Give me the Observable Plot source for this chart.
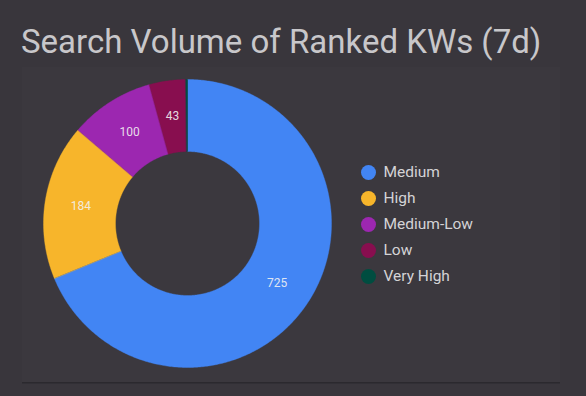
<!DOCTYPE html>
<html>
<head>
<meta charset="utf-8">
<script src="https://cdn.jsdelivr.net/npm/d3@7"></script>
<script src="https://cdn.jsdelivr.net/npm/@observablehq/plot@0.6"></script>
<style>
  html, body { margin: 0; padding: 0; }
  body { width: 586px; height: 396px; background: #39363c; position: relative; overflow: hidden; font-family: Roboto, "Noto Sans", sans-serif; }
  #title { position: absolute; left: 21px; top: 25px; font-size: 33px; line-height: 1; color: #c8c7ca; white-space: nowrap; }
  #card { position: absolute; left: 22px; top: 67px; width: 538px; height: 315px; background: #3b383e; box-shadow: 0 1.5px 0 #2b292e; }
  #pie { position: absolute; left: 22px; top: 67px; }
  #legend { position: absolute; left: 355px; top: 159px; }
  svg { overflow: visible; }
</style>
</head>
<body>
<div id="title">Search Volume of Ranked KWs (7d)</div>
<div id="card"></div>
<div id="pie"></div>
<div id="legend"></div>
<script>
// Data
const categories = ["Medium", "High", "Medium-Low", "Low", "Very High"];
const values = [725, 184, 100, 43, 2];
const colors = ["#4285f4", "#f7b52b", "#9c27b0", "#880e4f", "#004d40"];

const data = categories.map((c, i) => ({cat: c, value: values[i]}));
const arcs = d3.pie().sort(null).value(d => d.value)(data);

const innerR = 0.5, outerR = 1;
const rows = [];
for (const a of arcs) {
  const n = Math.max(2, Math.ceil((a.endAngle - a.startAngle) / 0.01));
  for (let k = 0; k <= n; k++) {
    const t = a.startAngle + (a.endAngle - a.startAngle) * k / n;
    rows.push({cat: a.data.cat, x: outerR * Math.sin(t), y: outerR * Math.cos(t)});
  }
  for (let k = n; k >= 0; k--) {
    const t = a.startAngle + (a.endAngle - a.startAngle) * k / n;
    rows.push({cat: a.data.cat, x: innerR * Math.sin(t), y: innerR * Math.cos(t)});
  }
}
const labels = arcs
  .filter(a => (a.endAngle - a.startAngle) > 0.1)
  .map(a => {
    const m = (a.startAngle + a.endAngle) / 2, r = (innerR + outerR) / 2;
    return {cat: a.data.cat, value: a.data.value, x: r * Math.sin(m), y: r * Math.cos(m)};
  });

const pie = Plot.plot({
  width: 538,
  height: 315,
  margin: 0,
  style: {background: "transparent", fontFamily: "Roboto, sans-serif"},
  x: {domain: [-1, 1], range: [21, 309], axis: null},
  y: {domain: [-1, 1], range: [300, 12], axis: null},
  color: {domain: categories, range: colors},
  marks: [
    Plot.line(rows, {x: "x", y: "y", z: "cat", fill: "cat", stroke: "cat", strokeWidth: 0.4, curve: "linear-closed"}),
    Plot.text(labels, {x: "x", y: "y", text: d => String(d.value), fill: "#f2f2f2", fillOpacity: 0.9, fontSize: 12})
  ]
});
document.getElementById("pie").appendChild(pie);

const legend = Plot.plot({
  width: 200,
  height: 130,
  margin: 0,
  style: {background: "transparent", fontFamily: "Roboto, sans-serif"},
  x: {domain: [0, 1], range: [13, 200], axis: null},
  y: {type: "point", domain: categories, range: [12, 117], padding: 0, axis: null},
  color: {domain: categories, range: colors},
  marks: [
    Plot.dot(categories, {x: () => 0, y: d => d, fill: d => d, r: 7.5}),
    Plot.text(categories, {x: () => 0, y: d => d, text: d => d, dx: 15, textAnchor: "start", fill: "#d4d3d6", fontSize: 15.5})
  ]
});
document.getElementById("legend").appendChild(legend);
</script>
</body>
</html>
